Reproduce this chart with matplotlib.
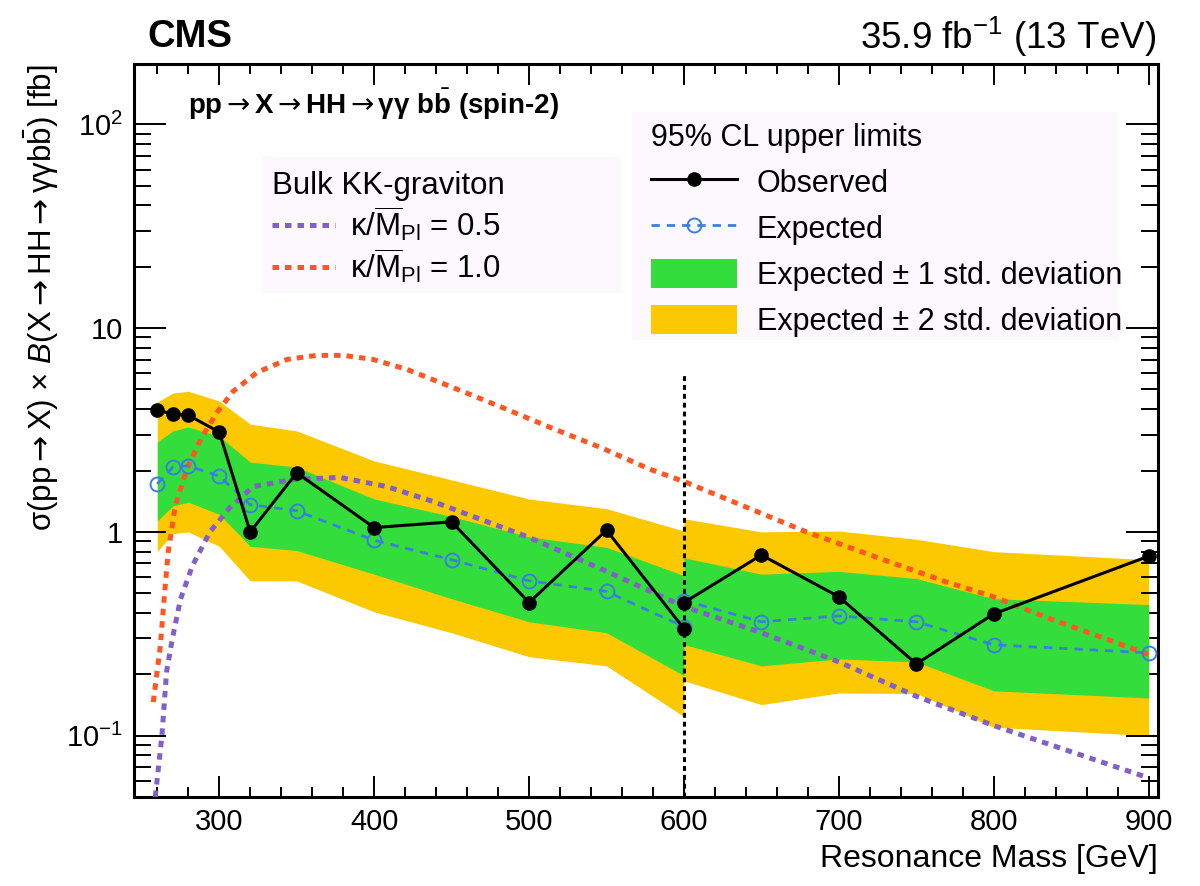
import matplotlib
matplotlib.use("Agg")
import matplotlib.pyplot as plt
from matplotlib.ticker import MultipleLocator, LogLocator, NullFormatter, FuncFormatter
from matplotlib.lines import Line2D
from matplotlib.patches import Patch, Rectangle

plt.rcParams['font.family'] = ['Liberation Sans', 'DejaVu Sans']
plt.rcParams['mathtext.fontset'] = 'custom'
plt.rcParams['mathtext.rm'] = 'Liberation Sans'
plt.rcParams['mathtext.it'] = 'Liberation Sans:italic'
plt.rcParams['mathtext.bf'] = 'Liberation Sans:bold'
plt.rcParams['mathtext.sf'] = 'DejaVu Sans'

# low-mass analysis (260-600 GeV)
mass_lo = [260, 270, 280, 300, 320, 350, 400, 450, 500, 550, 600]
obs_lo = [3.96, 3.79, 3.74, 3.09, 1.00, 1.95, 1.05, 1.12, 0.45, 1.02, 0.335]
exp_lo = [1.72, 2.08, 2.11, 1.88, 1.36, 1.27, 0.91, 0.73, 0.575, 0.51, 0.342]
s1_up_lo = [2.76, 3.13, 3.27, 2.95, 2.20, 2.08, 1.45, 1.19, 0.945, 0.84, 0.61]
s1_dn_lo = [1.13, 1.34, 1.40, 1.22, 0.85, 0.81, 0.62, 0.47, 0.362, 0.32, 0.197]
s2_up_lo = [4.34, 4.80, 4.90, 4.39, 3.38, 3.13, 2.23, 1.80, 1.45, 1.30, 1.01]
s2_dn_lo = [0.80, 0.98, 1.00, 0.85, 0.575, 0.575, 0.405, 0.32, 0.244, 0.22, 0.124]

# high-mass analysis (600-900 GeV)
mass_hi = [600, 650, 700, 750, 800, 900]
obs_hi = [0.45, 0.77, 0.48, 0.225, 0.396, 0.76]
exp_hi = [0.46, 0.362, 0.387, 0.362, 0.279, 0.255]
s1_up_hi = [0.746, 0.62, 0.64, 0.59, 0.47, 0.44]
s1_dn_hi = [0.28, 0.22, 0.238, 0.23, 0.166, 0.153]
s2_up_hi = [1.16, 1.00, 1.01, 0.92, 0.80, 0.73]
s2_dn_hi = [0.186, 0.142, 0.162, 0.161, 0.11, 0.10]

# bulk KK-graviton theory curves
mass_k05 = [258.7, 263, 266, 269.7, 275, 282.6, 294, 307, 322, 348, 378, 408,
            438, 460, 500, 550, 600, 650, 700, 750, 800, 900]
xsec_k05 = [0.05, 0.10, 0.206, 0.298, 0.468, 0.68, 1.0, 1.32, 1.67, 1.81, 1.85, 1.67,
            1.41, 1.22, 0.94, 0.64, 0.43, 0.32, 0.23, 0.156, 0.112, 0.062]
mass_k10 = [257.4, 262, 264, 267, 271.6, 279, 288, 298.7, 309, 324.5, 344, 363, 380,
            399, 421, 449, 481, 513.5, 546, 578, 600.6, 679, 731, 770, 800, 834, 877, 900]
xsec_k10 = [0.146, 0.275, 0.43, 0.79, 1.34, 2.03, 2.85, 3.87, 4.9, 6.07, 7.03, 7.35, 7.35,
            7.03, 6.28, 5.18, 4.13, 3.26, 2.60, 2.03, 1.76, 1.0, 0.72, 0.566, 0.48, 0.38, 0.29, 0.25]

GREEN = '#33dd3c'
YELLOW = '#fcc800'
BLUE = '#3a7fe0'
PURPLE = '#8360c6'
RED = '#ff5622'
LEGBG = '#fdf8fd'
DOTS = (0, (1.3, 1.2))
ARW = r'$\mathsf{\rightarrow}$'

fig = plt.figure(figsize=(12, 8.86), dpi=100)
ax = fig.add_axes([0.1117, 0.1005, 0.8533, 0.8273])

for m, up2, dn2, up1, dn1 in [(mass_lo, s2_up_lo, s2_dn_lo, s1_up_lo, s1_dn_lo),
                              (mass_hi, s2_up_hi, s2_dn_hi, s1_up_hi, s1_dn_hi)]:
    ax.fill_between(m, dn2, up2, color=YELLOW, lw=0, zorder=1)
    ax.fill_between(m, dn1, up1, color=GREEN, lw=0, zorder=2)

ax.plot(mass_k05, xsec_k05, color=PURPLE, lw=3.6, ls=DOTS, zorder=3)
ax.plot(mass_k10, xsec_k10, color=RED, lw=3.6, ls=DOTS, zorder=3)

for m, e in [(mass_lo, exp_lo), (mass_hi, exp_hi)]:
    ax.plot(m, e, color=BLUE, lw=2, ls=(0, (3, 2.5)), marker='o', ms=10,
            mfc='none', mec=BLUE, mew=1.4, zorder=4)
for m, o in [(mass_lo, obs_lo), (mass_hi, obs_hi)]:
    ax.plot(m, o, color='black', lw=2.2, marker='o', ms=9.5, zorder=5)

# boundary between the two mass regions
ax.plot([600, 600], [0.05, 5.93], color='black', lw=2.2, ls=(0, (1.6, 1.3)), zorder=6)

ax.set_yscale('log')
ax.set_xlim(245, 906)
ax.set_ylim(0.05, 198)

ax.xaxis.set_major_locator(MultipleLocator(100))
ax.xaxis.set_minor_locator(MultipleLocator(20))
ax.yaxis.set_major_locator(LogLocator(base=10, numticks=10))
ax.yaxis.set_minor_locator(LogLocator(base=10, subs=range(2, 10), numticks=20))
ax.yaxis.set_minor_formatter(NullFormatter())
ylabels = {0.1: r'10$^{-1}$', 1: '1', 10: '10', 100: r'10$^{2}$'}
ax.yaxis.set_major_formatter(FuncFormatter(lambda v, p: ylabels.get(round(v, 3), '')))

ax.tick_params(which='both', direction='in', top=True, right=True, labelsize=21, width=1.4)
ax.tick_params(axis='x', which='major', length=15, pad=8)
ax.tick_params(axis='x', which='minor', length=7.5)
ax.tick_params(axis='y', which='major', length=23, pad=8)
ax.tick_params(axis='y', which='minor', length=12)
for sp in ax.spines.values():
    sp.set_linewidth(2.2)

ax.set_xlabel('Resonance Mass [GeV]', fontsize=23, loc='right', labelpad=6)
ax.set_ylabel('σ(pp' + ARW + r'X) × $\mathit{B}$(X' + ARW + 'HH' + ARW + r'γγb$\bar{\mathrm{b}}$) [fb]',
              fontsize=22.5, loc='top')

fig.text(0.123, 0.958, 'CMS', fontsize=27.5, fontweight='bold', va='center')
fig.text(0.963, 0.958, r'35.9 fb$^{\mathregular{-1}}$ (13 TeV)', fontsize=26.5, ha='right', va='center')
ax.text(0.053, 0.945, 'pp' + ARW + 'X' + ARW + 'HH' + ARW + r'γγ $\mathbf{b}\bar{\mathbf{b}}$ (spin-2)',
        transform=ax.transAxes, fontsize=20, fontweight='bold', va='center')

# legend backgrounds
ax.add_patch(Rectangle((0.125, 0.688), 0.352, 0.185, transform=ax.transAxes,
                       facecolor=LEGBG, edgecolor='none', zorder=7))
ax.add_patch(Rectangle((0.486, 0.623), 0.475, 0.3115, transform=ax.transAxes,
                       facecolor=LEGBG, edgecolor='none', zorder=7))

theory_handles = [Line2D([], [], color=PURPLE, lw=3.6, ls=DOTS),
                  Line2D([], [], color=RED, lw=3.6, ls=DOTS)]
theory_labels = [r'κ/$\overline{\mathrm{M}}_{\mathrm{Pl}}$ = 0.5',
                 r'κ/$\overline{\mathrm{M}}_{\mathrm{Pl}}$ = 1.0']
leg1 = ax.legend(theory_handles, theory_labels, title='Bulk KK-graviton', alignment='left',
                 loc='upper left', bbox_to_anchor=(0.1348, 0.854), fontsize=22.5, title_fontsize=22.5,
                 frameon=False, borderpad=0, borderaxespad=0, handlelength=2.0,
                 handletextpad=0.5, labelspacing=0.1)
leg1.set_zorder(8)
ax.add_artist(leg1)

limit_handles = [Line2D([], [], color='black', lw=2.2, marker='o', ms=9.5),
                 Line2D([], [], color=BLUE, lw=2, ls=(0, (3, 2.5)), marker='o', ms=10,
                        mfc='none', mec=BLUE, mew=1.4),
                 Patch(facecolor=GREEN, edgecolor='none'),
                 Patch(facecolor=YELLOW, edgecolor='none')]
limit_labels = ['Observed', 'Expected', 'Expected ± 1 std. deviation', 'Expected ± 2 std. deviation']
leg2 = ax.legend(limit_handles, limit_labels, title='95% CL upper limits', alignment='left',
                 loc='upper left', bbox_to_anchor=(0.505, 0.92), fontsize=22, title_fontsize=22,
                 frameon=False, borderpad=0, borderaxespad=0, handlelength=2.8, handleheight=1.1,
                 handletextpad=0.66, labelspacing=0.46)
leg2.set_zorder(8)

fig.savefig('out.png', dpi=100)
